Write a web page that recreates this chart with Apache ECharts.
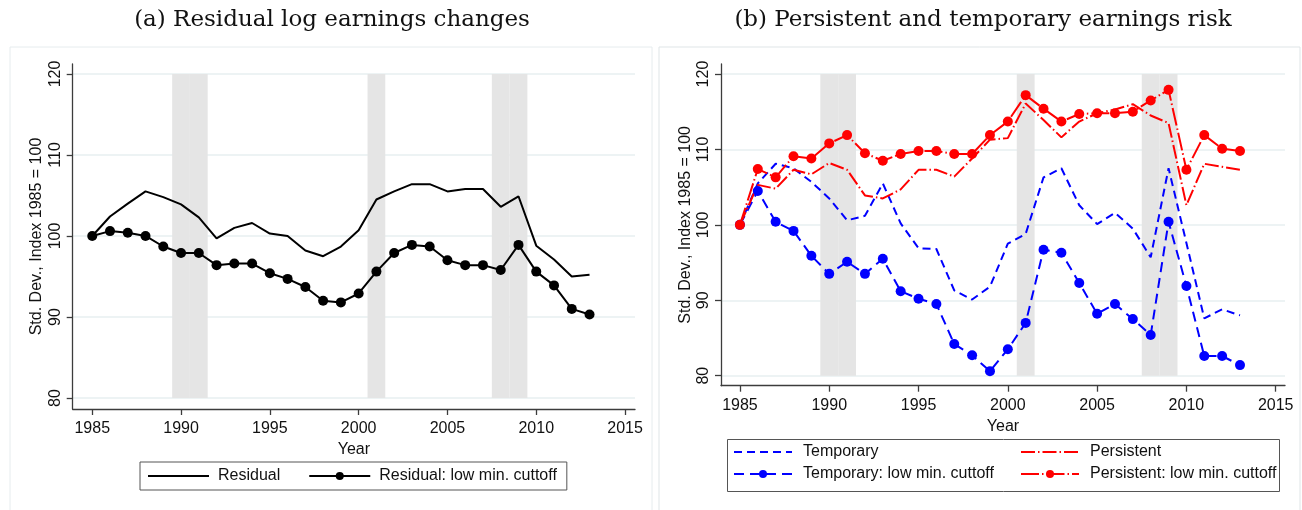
<!DOCTYPE html>
<html>
<head>
<meta charset="utf-8">
<script src="https://cdn.jsdelivr.net/npm/echarts@6/dist/echarts.min.js"></script>
<style>
  html, body { margin: 0; padding: 0; background: #fff; }
  #main { width: 1302px; height: 510px; }
</style>
</head>
<body>
<div id="main"></div>
<script>
// years and values
const years = [1985, 1986, 1987, 1988, 1989, 1990, 1991, 1992, 1993, 1994, 1995, 1996, 1997, 1998, 1999,
  2000, 2001, 2002, 2003, 2004, 2005, 2006, 2007, 2008, 2009, 2010, 2011, 2012, 2013];

const residual = [100, 102.4, 104.0, 105.5, 104.8, 103.9, 102.3, 99.7, 101.0, 101.6, 100.3, 100.0, 98.2, 97.5, 98.7,
  100.7, 104.5, 105.5, 106.4, 106.4, 105.5, 105.8, 105.8, 103.6, 104.9, 98.8, 97.1, 95.0, 95.2];
const residualLow = [100, 100.6, 100.4, 100.0, 98.7, 97.9, 97.9, 96.4, 96.6, 96.6, 95.4, 94.7, 93.7, 92.0, 91.8,
  92.9, 95.6, 97.9, 98.9, 98.7, 97.0, 96.4, 96.4, 95.8, 98.9, 95.6, 93.9, 91.0, 90.3];

const temporary = [100, 105.5, 108.1, 107.5, 105.7, 103.5, 100.6, 101.2, 105.5, 100.2, 96.9, 96.8, 91.3, 90.1, 91.8,
  97.5, 98.8, 106.3, 107.5, 102.6, 100.1, 101.6, 99.5, 95.7, 107.5, 97.6, 87.6, 88.8, 88.0];
const temporaryLow = [100, 104.5, 100.4, 99.2, 95.9, 93.5, 95.1, 93.5, 95.5, 91.2, 90.2, 89.5, 84.2, 82.7, 80.6,
  83.5, 87.0, 96.7, 96.3, 92.3, 88.2, 89.5, 87.5, 85.4, 100.4, 91.9, 82.6, 82.6, 81.4];
const persistent = [100, 105.3, 104.8, 107.3, 106.7, 108.2, 107.3, 103.9, 103.5, 104.7, 107.3, 107.3, 106.4, 108.8, 111.3,
  111.5, 116.1, 113.9, 111.6, 113.7, 114.8, 115.3, 116.0, 114.5, 113.5, 102.6, 108.1, 107.7, 107.3];
const persistentLow = [100, 107.4, 106.3, 109.1, 108.8, 110.8, 111.9, 109.5, 108.5, 109.4, 109.8, 109.8, 109.4, 109.4, 111.9,
  113.7, 117.2, 115.4, 113.7, 114.7, 114.8, 114.8, 115.0, 116.5, 117.9, 107.3, 111.9, 110.1, 109.8];

// recession years (shaded one year wide each)
const recessionYears = [1990, 1991, 2001, 2008, 2009];

const xTicks = [1985, 1990, 1995, 2000, 2005, 2010, 2015];
const yTicks = [80, 90, 100, 110, 120];

const FONT = 'Liberation Sans';
const axisColor = '#3c3c3c';
const NOFILL = 'rgba(0,0,0,0)';

function pairs(vals) {
  return years.map((y, i) => [y, vals[i]]);
}

function shading() {
  return recessionYears.map(y => [
    { coord: [y - 0.5, yTicks[0]] },
    { coord: [y + 0.5, yTicks[yTicks.length - 1]] }
  ]);
}

function xAxis(idx, min, max) {
  return {
    type: 'value', gridIndex: idx, min: min, max: max,
    name: 'Year', nameLocation: 'middle', nameGap: 24,
    nameTextStyle: { fontFamily: FONT, fontSize: 16, color: '#111' },
    axisLine: { lineStyle: { color: axisColor, width: 1.3 } },
    axisTick: { customValues: xTicks, length: 6, lineStyle: { color: axisColor, width: 1.3 } },
    axisLabel: { customValues: xTicks, margin: 12, fontFamily: FONT, fontSize: 16, color: '#111',
      formatter: v => String(v) },
    splitLine: { show: false }
  };
}

function yAxis(idx, min, max, gap) {
  return {
    type: 'value', gridIndex: idx, min: min, max: max,
    name: 'Std. Dev., Index 1985 = 100', nameLocation: 'middle', nameGap: gap, nameRotate: 90,
    nameTextStyle: { fontFamily: FONT, fontSize: 16, color: '#111' },
    axisLine: { show: true, lineStyle: { color: axisColor, width: 1.3 } },
    axisTick: { show: true, customValues: yTicks, length: 6, lineStyle: { color: axisColor, width: 1.3 } },
    axisLabel: { customValues: yTicks, rotate: 90, margin: 9, fontFamily: FONT, fontSize: 16, color: '#111',
      formatter: v => String(v) },
    splitLine: { show: true, lineStyle: { color: '#e7eff1', width: 1.5 } }
  };
}

function legendBase(left, top, padding, names) {
  return {
    left: left, top: top, orient: 'vertical',
    padding: padding, itemGap: 6, itemWidth: 58, itemHeight: 10,
    textStyle: { fontFamily: FONT, fontSize: 16, color: '#111', padding: [0, 0, 0, 6] },
    data: names
  };
}

let myChart = echarts.init(document.getElementById('main'));

let option = {
  backgroundColor: '#fff',
  animation: false,
  title: [
    { text: '(a) Residual log earnings changes', left: 327, top: 4, textAlign: 'center',
      textStyle: { fontFamily: 'DejaVu Serif', fontSize: 23, fontWeight: 'normal', color: '#111' } },
    { text: '(b) Persistent and temporary earnings risk', left: 978, top: 4, textAlign: 'center',
      textStyle: { fontFamily: 'DejaVu Serif', fontSize: 23, fontWeight: 'normal', color: '#111' } }
  ],
  graphic: [
    { type: 'rect', shape: { x: 10, y: 47, width: 642, height: 480 }, silent: true, z: -10,
      style: { fill: 'none', stroke: '#e6ecee', lineWidth: 1 } },
    { type: 'rect', shape: { x: 659, y: 47, width: 641, height: 480 }, silent: true, z: -10,
      style: { fill: 'none', stroke: '#dfe5e7', lineWidth: 1 } },
    // frame around the two-column legend of panel (b)
    { type: 'rect', shape: { x: 727.5, y: 439.5, width: 552, height: 52 }, silent: true,
      style: { fill: 'none', stroke: '#555', lineWidth: 1 } }
  ],
  grid: [
    { left: 72.7, top: 64, width: 562.3, height: 345, outerBoundsMode: 'none' },
    { left: 721, top: 64, width: 564, height: 321.7, outerBoundsMode: 'none' }
  ],
  xAxis: [xAxis(0, 1983.9, 2015.56), xAxis(1, 1983.94, 2015.52)],
  yAxis: [yAxis(0, 78.64, 121.23, 28.5), yAxis(1, 78.67, 121.33, 27)],
  legend: [
    {
      left: 140, top: 462, orient: 'horizontal',
      padding: [6, 10, 6, 7], itemGap: 28, itemWidth: 61, itemHeight: 10,
      borderColor: '#555', borderWidth: 1,
      textStyle: { fontFamily: FONT, fontSize: 16, color: '#111', padding: [0, 0, 0, 4] },
      data: ['Residual', 'Residual: low min. cuttoff']
    },
    legendBase(727, 439, [5, 0, 5, 6], ['Temporary', 'Temporary: low min. cuttoff']),
    legendBase(1020, 439, [5, 8, 5, 0], ['Persistent', 'Persistent: low min. cuttoff'])
  ],
  series: [
    // recession shading
    { type: 'line', xAxisIndex: 0, yAxisIndex: 0, data: [], z: 1, silent: true,
      markArea: { silent: true, itemStyle: { color: '#e5e5e5' }, data: shading() } },
    { type: 'line', xAxisIndex: 1, yAxisIndex: 1, data: [], z: 1, silent: true,
      markArea: { silent: true, itemStyle: { color: '#e5e5e5' }, data: shading() } },

    // series without markers: transparent item colour keeps the legend icon a bare line
    { name: 'Residual', type: 'line', xAxisIndex: 0, yAxisIndex: 0, z: 3,
      data: pairs(residual), showSymbol: false, symbol: 'none',
      itemStyle: { color: NOFILL }, lineStyle: { color: '#000', width: 2 } },
    { name: 'Residual: low min. cuttoff', type: 'line', xAxisIndex: 0, yAxisIndex: 0, z: 3,
      data: pairs(residualLow), symbol: 'circle', symbolSize: 10,
      itemStyle: { color: '#000' }, lineStyle: { color: '#000', width: 2 } },

    { name: 'Temporary', type: 'line', xAxisIndex: 1, yAxisIndex: 1, z: 3,
      data: pairs(temporary), showSymbol: false, symbol: 'none',
      itemStyle: { color: NOFILL }, lineStyle: { color: '#0000ff', width: 2, type: [8, 5] } },
    { name: 'Temporary: low min. cuttoff', type: 'line', xAxisIndex: 1, yAxisIndex: 1, z: 3,
      data: pairs(temporaryLow), symbol: 'circle', symbolSize: 10,
      itemStyle: { color: '#0000ff' }, lineStyle: { color: '#0000ff', width: 2, type: [10, 6] } },
    { name: 'Persistent', type: 'line', xAxisIndex: 1, yAxisIndex: 1, z: 3,
      data: pairs(persistent), showSymbol: false, symbol: 'none',
      itemStyle: { color: NOFILL }, lineStyle: { color: '#ff0000', width: 2, type: [14, 3, 1.5, 3] } },
    { name: 'Persistent: low min. cuttoff', type: 'line', xAxisIndex: 1, yAxisIndex: 1, z: 3,
      data: pairs(persistentLow), symbol: 'circle', symbolSize: 10,
      itemStyle: { color: '#ff0000' }, lineStyle: { color: '#ff0000', width: 2, type: [18, 3, 1.5, 3] } }
  ]
};

myChart.setOption(option);
</script>
</body>
</html>
